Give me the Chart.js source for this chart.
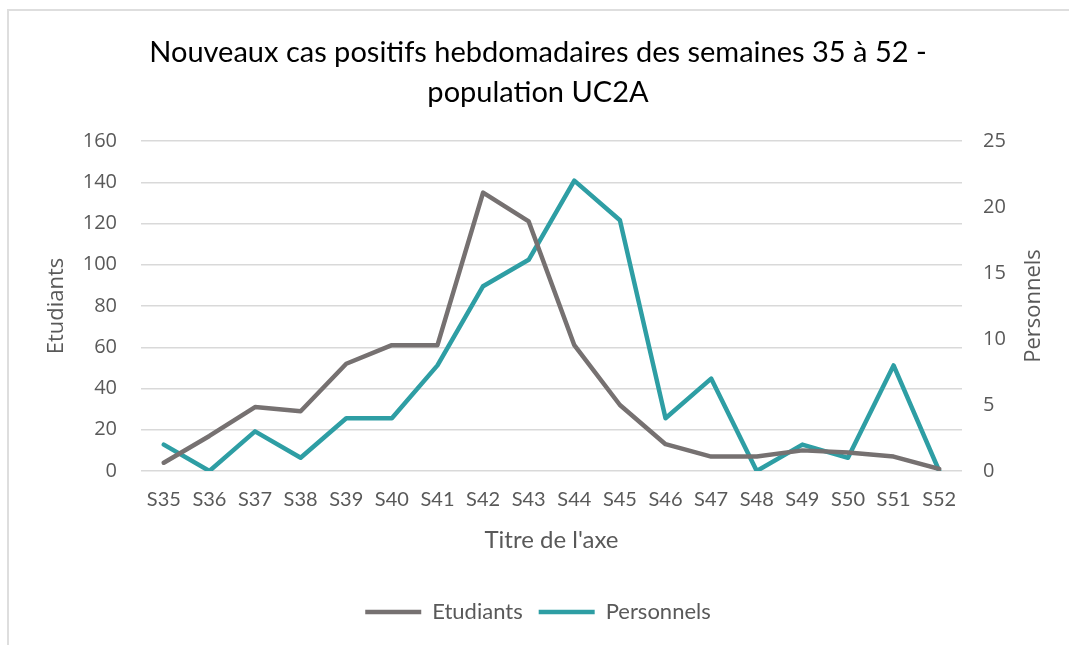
<!DOCTYPE html>
<html>
<head>
<meta charset="utf-8">
<title>Nouveaux cas positifs hebdomadaires</title>
<script src="https://cdn.jsdelivr.net/npm/chart.js@4.4.1/dist/chart.umd.min.js"></script>
<style>
  html, body { margin: 0; padding: 0; background: #fff; overflow: hidden; }
  #wrap { position: relative; width: 1069px; height: 645px; }
  #frame { position: absolute; left: 7px; top: 9px; width: 1100px; height: 700px;
           border-top: 2px solid #dedede; border-left: 2px solid #dedede; }
  #chart { position: absolute; left: 0; top: 0; }
</style>
</head>
<body>
<div id="wrap">
  <div id="frame"></div>
  <canvas id="chart" width="1069" height="645"></canvas>
</div>
<script>
"use strict"

// weeks on the x axis
const weeks = ["S35", "S36", "S37", "S38", "S39", "S40", "S41", "S42", "S43",
               "S44", "S45", "S46", "S47", "S48", "S49", "S50", "S51", "S52"];

// left axis - students
const etudiants = [4, 17, 31, 29, 52, 61, 61, 135, 121, 61, 32, 13, 7, 7, 10, 9, 7, 1];

// right axis - staff
const personnels = [2, 0, 3, 1, 4, 4, 8, 14, 16, 22, 19, 4, 7, 0, 2, 1, 8, 0];

const titleLines = ["Nouveaux cas positifs hebdomadaires des semaines 35 à 52 -", "population UC2A"];
const rightTitle = "Personnels";

const grey = "#767171";
const teal = "#2e9ea4";
const textCol = "#595959";
const gridCol = "#d9d9d9";

const narrow = "Lato, 'Open Sans', sans-serif";
const wide = "'Open Sans', 'Noto Sans', sans-serif";


// Excel writes the secondary axis title bottom-to-top, Chart.js does the opposite
const rightTitlePlugin = {
    id: "rightTitle",
    afterDraw(chart) {
        const s = chart.scales.y1;
        const c = chart.ctx;
        c.save();
        c.translate(s.right - 35, (s.top + s.bottom) / 2);
        c.rotate(-Math.PI / 2);
        c.textAlign = "center";
        c.textBaseline = "middle";
        c.fillStyle = textCol;
        c.font = "normal 22px " + wide;
        c.fillText(rightTitle, 0, 0);
        c.restore();
    }
};


let data = {
    labels: weeks,
    datasets: [{
        label: "Etudiants",
        data: etudiants,
        yAxisID: "y",
        borderColor: grey,
        backgroundColor: grey,
        borderWidth: 4.5,
        borderCapStyle: "round",
        borderJoinStyle: "round",
        pointRadius: 0,
        tension: 0
    }, {
        label: "Personnels",
        data: personnels,
        yAxisID: "y1",
        borderColor: teal,
        backgroundColor: teal,
        borderWidth: 4.5,
        borderCapStyle: "round",
        borderJoinStyle: "round",
        pointRadius: 0,
        tension: 0
    }]
};

let config = {
    type: "line",
    data: data,
    plugins: [rightTitlePlugin],
    options: {
        responsive: false,
        animation: false,
        layout: {
            padding: { left: 7, right: 0, top: 0, bottom: 12 }
        },
        plugins: {
            title: {
                display: true,
                text: titleLines,
                color: "#000",
                font: { family: narrow, size: 29, weight: "normal", lineHeight: "40px" },
                padding: { top: 33, bottom: 28 }
            },
            legend: {
                position: "bottom",
                labels: {
                    usePointStyle: true,
                    pointStyle: "line",
                    pointStyleWidth: 56,
                    color: textCol,
                    font: { family: narrow, size: 22 },
                    padding: 16
                }
            },
            tooltip: { enabled: false }
        },
        scales: {
            x: {
                offset: true,
                grid: { display: false, offset: true },
                border: { display: false },
                ticks: {
                    color: textCol,
                    font: { family: narrow, size: 20 },
                    padding: 9,
                    maxRotation: 0,
                    autoSkip: false
                },
                title: {
                    display: true,
                    text: "Titre de l'axe",
                    color: textCol,
                    font: { family: narrow, size: 24 },
                    padding: { top: 0, bottom: 30 }
                },
                afterFit(scale) { scale.height = 114; }
            },
            y: {
                position: "left",
                min: 0,
                max: 160,
                ticks: {
                    stepSize: 20,
                    color: textCol,
                    font: { family: wide, size: 20 },
                    padding: 24
                },
                grid: { color: gridCol, lineWidth: 1.5, drawTicks: false },
                border: { display: false },
                title: {
                    display: true,
                    text: "Etudiants",
                    color: textCol,
                    font: { family: wide, size: 22 },
                    padding: { top: 37, bottom: 0 }
                },
                afterFit(scale) { scale.width = 134; }
            },
            y1: {
                position: "right",
                min: 0,
                max: 25,
                ticks: {
                    stepSize: 5,
                    color: textCol,
                    font: { family: wide, size: 20 },
                    padding: 21
                },
                grid: { drawOnChartArea: false, drawTicks: false },
                border: { display: false },
                title: { display: false },
                afterFit(scale) { scale.width = 107; }
            }
        }
    }
};

let ctx = document.querySelector("#chart");
let casesChart = new Chart(ctx, config);
</script>
</body>
</html>
